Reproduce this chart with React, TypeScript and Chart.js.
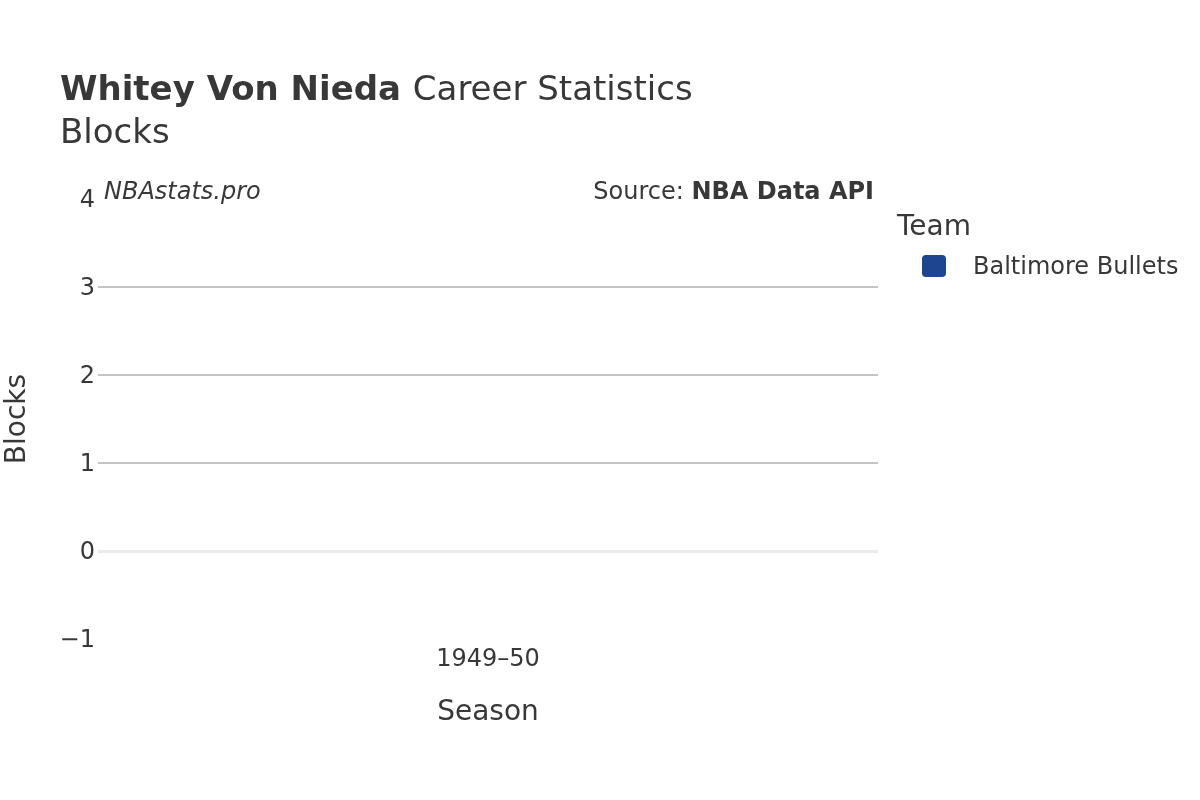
import { useEffect, useRef } from 'react';
import { Chart, registerables } from 'chart.js';

Chart.register(...registerables);

// chart data
const seasons = ['1949–50'];
const teamNames = ['Baltimore Bullets'];
const teamColors = ['#1d4590'];
const blocks = [0];
const yTicks = [-1, 0, 1, 2, 3, 4];

const FONT = '"DejaVu Sans", "Open Sans", sans-serif';
const TEXT = '#383838';

const textPlugin = {
  id: 'plotlyText',
  afterDraw(chart: Chart) {
    const ctx = chart.ctx;
    const area = chart.chartArea;
    const mid = (area.left + area.right) / 2;
    ctx.save();
    ctx.fillStyle = TEXT;
    ctx.textBaseline = 'alphabetic';
    ctx.textAlign = 'left';

    // title
    ctx.font = `bold 34px ${FONT}`;
    const bold = 'Whitey Von Nieda';
    ctx.fillText(bold, 60, 100);
    const w = ctx.measureText(bold + ' ').width;
    ctx.font = `34px ${FONT}`;
    ctx.fillText('Career Statistics', 60 + w, 100);
    ctx.fillText('Blocks', 60, 143);

    // annotations
    ctx.textBaseline = 'middle';
    ctx.font = `italic 24px ${FONT}`;
    ctx.fillText('NBAstats.pro', 104, 193);
    ctx.textAlign = 'right';
    ctx.font = `bold 24px ${FONT}`;
    const src = 'NBA Data API';
    ctx.fillText(src, 874, 193);
    const sw = ctx.measureText(src).width;
    ctx.font = `24px ${FONT}`;
    ctx.fillText('Source: ', 874 - sw, 193);

    // axis titles
    ctx.textAlign = 'center';
    ctx.font = `28px ${FONT}`;
    ctx.fillText('Season', mid, 713);
    ctx.save();
    ctx.translate(18, (area.top + area.bottom) / 2);
    ctx.rotate(-Math.PI / 2);
    ctx.fillText('Blocks', 0, 0);
    ctx.restore();

    // legend
    ctx.textAlign = 'left';
    ctx.font = `28px ${FONT}`;
    ctx.fillText('Team', 897, 228);
    chart.data.datasets.forEach((ds, i) => {
      const y = 266 + i * 40;
      ctx.fillStyle = ds.backgroundColor as string;
      ctx.beginPath();
      ctx.roundRect(922, y - 11, 24, 22, 4);
      ctx.fill();
      ctx.fillStyle = TEXT;
      ctx.font = `24px ${FONT}`;
      ctx.fillText(ds.label as string, 973, y + 2);
    });
    ctx.restore();
  },
};

export default function App() {
  const canvasRef = useRef<HTMLCanvasElement>(null);

  useEffect(() => {
    if (!canvasRef.current) return;
    const chart = new Chart(canvasRef.current, {
      type: 'bar',
      data: {
        labels: seasons,
        datasets: teamNames.map((name, i) => ({
          label: name,
          data: blocks,
          backgroundColor: teamColors[i],
          borderWidth: 0,
        })),
      },
      options: {
        responsive: false,
        animation: false,
        devicePixelRatio: 1,
        layout: { padding: { top: 199, right: 322, bottom: 0, left: 0 } },
        plugins: { legend: { display: false }, tooltip: { enabled: false } },
        scales: {
          x: {
            grid: { display: false },
            border: { display: false },
            ticks: { color: TEXT, font: { family: FONT, size: 24 }, padding: -2, maxRotation: 0 },
            afterFit: (scale: any) => { scale.height = 161; },
          },
          y: {
            min: yTicks[0],
            max: yTicks[yTicks.length - 1],
            afterBuildTicks: (scale: any) => { scale.ticks = yTicks.map((v) => ({ value: v })); },
            border: { display: false },
            grid: {
              drawTicks: false,
              color: (c: any) => {
                const v = c.tick?.value;
                if (v === 0) return '#ebebeb';
                if (v === yTicks[0] || v === yTicks[yTicks.length - 1]) return 'rgba(0,0,0,0)';
                return '#c4c4c4';
              },
              lineWidth: (c: any) => (c.tick?.value === 0 ? 3 : 2),
            },
            ticks: {
              color: TEXT,
              font: { family: FONT, size: 24 },
              padding: 3,
              labelOffset: 2,
              callback: (v: any) => (Number(v) < 0 ? '−' + Math.abs(Number(v)) : String(v)),
            },
            afterFit: (scale: any) => { scale.width = 98; },
          },
        },
      },
      plugins: [textPlugin],
    });
    return () => chart.destroy();
  }, []);

  return (
    <div style={{ position: 'absolute', left: 0, top: 0, width: 1200, height: 800, background: '#fff' }}>
      <canvas ref={canvasRef} width={1200} height={800} />
    </div>
  );
}
